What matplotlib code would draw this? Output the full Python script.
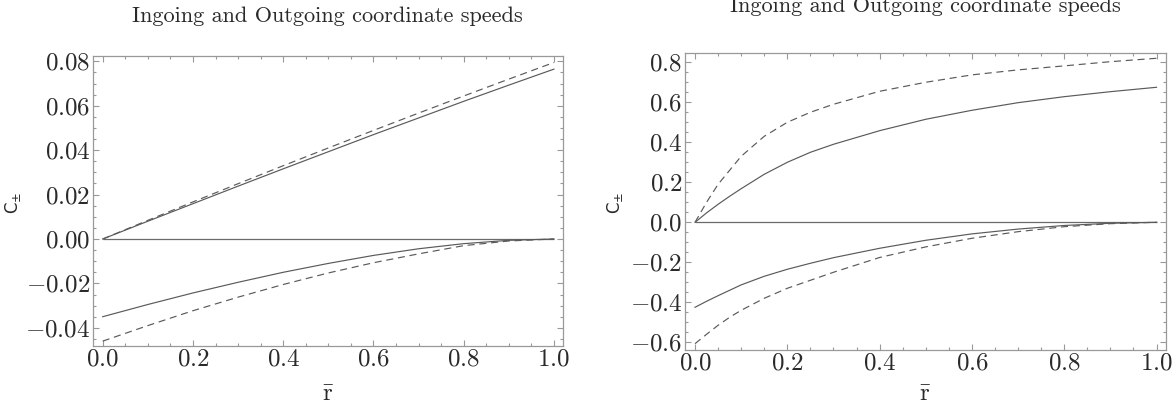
import numpy as np
import matplotlib
matplotlib.use('Agg')
import matplotlib.pyplot as plt
from matplotlib.ticker import MultipleLocator, FuncFormatter

plt.rcParams['font.family'] = 'cmr10'
plt.rcParams['mathtext.fontset'] = 'cm'
plt.rcParams['axes.formatter.use_mathtext'] = True

TITLE = 'Ingoing and Outgoing coordinate speeds'

# left panel: weak field case
r_left = [0.0, 0.1, 0.2, 0.3, 0.4, 0.5, 0.6, 0.7, 0.8, 0.9, 1.0]
out_solid_left = [0.0, 0.0080, 0.0159, 0.0238, 0.0316, 0.0393, 0.0470, 0.0545, 0.0620, 0.0693, 0.0765]
out_dash_left = [0.0, 0.0084, 0.0167, 0.0249, 0.0330, 0.0410, 0.0489, 0.0567, 0.0644, 0.0720, 0.0795]
in_solid_left = [-0.0350, -0.0295, -0.0243, -0.0195, -0.0150, -0.0110, -0.0074, -0.0044, -0.0021, -0.0006, 0.0]
in_dash_left = [-0.0460, -0.0390, -0.0323, -0.0262, -0.0205, -0.0153, -0.0107, -0.0067, -0.0030, -0.0009, 0.0]

# right panel: strong field case
r_right = [0.0, 0.025, 0.05, 0.075, 0.1, 0.15, 0.2, 0.25, 0.3, 0.4, 0.5, 0.6, 0.7, 0.8, 0.9, 1.0]
out_solid_right = [0.0, 0.047, 0.09, 0.13, 0.168, 0.24, 0.30, 0.35, 0.39, 0.458, 0.515, 0.56, 0.598, 0.628, 0.653, 0.675]
out_dash_right = [0.0, 0.10, 0.19, 0.26, 0.33, 0.43, 0.50, 0.55, 0.59, 0.655, 0.70, 0.737, 0.762, 0.782, 0.803, 0.82]
in_solid_right = [-0.425, -0.395, -0.367, -0.34, -0.313, -0.27, -0.235, -0.205, -0.177, -0.13, -0.09, -0.058, -0.034, -0.016, -0.005, 0.0]
in_dash_right = [-0.607, -0.56, -0.515, -0.475, -0.44, -0.38, -0.33, -0.29, -0.25, -0.176, -0.123, -0.08, -0.047, -0.022, -0.007, 0.0]

line_col = '#5a5a5a'
frame_col = '#999999'
text_col = '#2a2a2a'


def style_axes(ax, xlim, ylim, ymajor, yminor, ydigits, ylab_x, xlab_y):
    ax.set_xlim(*xlim)
    ax.set_ylim(*ylim)
    ax.xaxis.set_major_locator(MultipleLocator(0.2))
    ax.xaxis.set_minor_locator(MultipleLocator(0.05))
    ax.yaxis.set_major_locator(MultipleLocator(ymajor))
    ax.yaxis.set_minor_locator(MultipleLocator(yminor))
    ax.xaxis.set_major_formatter(FuncFormatter(lambda v, p: '$%.1f$' % v))
    fmt = '$%.' + str(ydigits) + 'f$'
    ax.yaxis.set_major_formatter(FuncFormatter(lambda v, p: fmt % (0 if abs(v) < 1e-12 else v)))
    for s in ax.spines.values():
        s.set_color(frame_col)
        s.set_linewidth(0.9)
    ax.tick_params(which='both', direction='in', top=True, right=True,
                   color=frame_col, width=0.8, labelsize=18, labelcolor=text_col, pad=2)
    ax.tick_params(which='major', length=4.5)
    ax.tick_params(which='minor', length=2.2)
    ax.set_xlabel(r'$\bar{\mathrm{r}}$', fontsize=18, color=text_col)
    ax.xaxis.set_label_coords(0.5, xlab_y)
    ax.set_ylabel(r'$\mathsf{C}_{\pm}$', fontsize=12, color=text_col, math_fontfamily='dejavusans')
    ax.yaxis.set_label_coords(ylab_x, 0.494)


def draw(ax, r, out_s, out_d, in_s, in_d):
    ax.hlines(0, r[0], r[-1], color='#6a6a6a', lw=0.9)
    ax.plot(r, out_s, color=line_col, lw=0.85)
    ax.plot(r, in_s, color=line_col, lw=0.85)
    ax.plot(r, out_d, color=line_col, lw=0.85, dashes=(6, 4))
    ax.plot(r, in_d, color=line_col, lw=0.85, dashes=(6, 4))


fig = plt.figure(figsize=(11.76, 4.09), dpi=100)
ax1 = fig.add_axes([0.0793, 0.154, 0.3994, 0.709])
ax2 = fig.add_axes([0.5825, 0.1443, 0.4088, 0.7269])

draw(ax1, r_left, out_solid_left, out_dash_left, in_solid_left, in_dash_left)
style_axes(ax1, (-0.021, 1.02), (-0.0482, 0.0824), 0.02, 0.005, 2, -0.15, -0.128)

draw(ax2, r_right, out_solid_right, out_dash_right, in_solid_right, in_dash_right)
style_axes(ax2, (-0.0217, 1.02), (-0.6385, 0.848), 0.2, 0.05, 1, -0.125, -0.112)

fig.text(327 / 1176, 1 - 16 / 409, TITLE, fontsize=16, ha='center', va='center', color=text_col)
fig.text(925 / 1176, 1 - 6 / 409, TITLE, fontsize=16, ha='center', va='center', color=text_col)

fig.savefig('out.png', dpi=100)
